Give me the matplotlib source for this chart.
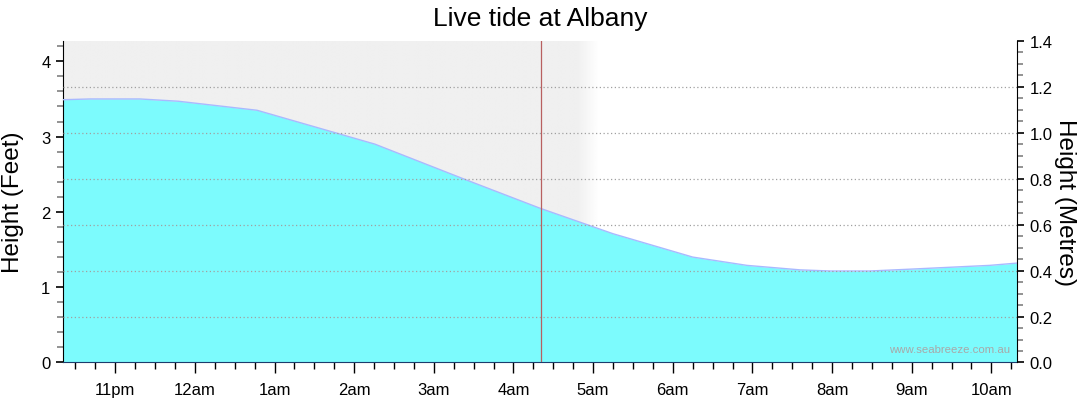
import numpy as np
import matplotlib.pyplot as plt

# tide heights (feet), hours relative to midnight (negative = previous evening)
hours = [-1.656, -1.31, -0.69, -0.21, 0.78, 2.26, 3.37, 4.33, 5.25, 6.25,
         6.93, 7.6, 7.98, 8.47, 8.99, 9.98, 10.32]
height_ft = [3.49, 3.50, 3.50, 3.47, 3.35, 2.90, 2.44, 2.05, 1.71, 1.40,
             1.29, 1.23, 1.215, 1.215, 1.24, 1.29, 1.32]
now_hour = 4.345

tick_hours = list(range(-1, 11))
tick_labels = ['11pm', '12am', '1am', '2am', '3am', '4am', '5am', '6am',
               '7am', '8am', '9am', '10am']

plt.rcParams['font.family'] = ['Liberation Sans', 'DejaVu Sans']

fig = plt.figure(figsize=(10.8, 4.14), dpi=100)
ax = fig.add_axes([0.0583, 0.122, 0.8834, 0.7766])
x0, x1 = -1.656, 10.322
ax.set_xlim(x0, x1)
ax.set_ylim(0, 4.27)

# shaded "past" region with a fade to white
fade_start, fade_end = 4.80, 5.07
xs = np.linspace(x0, x1, 1200)
alpha = np.clip((fade_end - xs) / (fade_end - fade_start), 0, 1)
grey = 240 / 255
row = 1 - (1 - grey) * alpha
img = np.tile(row, (2, 1))
ax.imshow(img, cmap='gray', vmin=0, vmax=1, aspect='auto',
          extent=[x0, x1, 0, 4.27], zorder=0, interpolation='bilinear')

# tide fill
ax.fill_between(hours, height_ft, 0, color='#7cfbfd', lw=0, zorder=2)
ax.plot(hours, height_ft, color='#a9b9ff', lw=1.0, zorder=3)

# current time marker
ax.axvline(now_hour, color='#b86060', lw=0.9, zorder=4)

ax.set_xticks(tick_hours)
ax.set_xticklabels(tick_labels, fontsize=12)
ax.set_xticks(np.arange(-1.5, 10.4, 0.25), minor=True)
ax.set_yticks([0, 1, 2, 3, 4])
ax.set_yticks(np.arange(0, 4.27, 0.2), minor=True)
ax.tick_params(axis='x', which='major', length=8, width=1, color='black', pad=6)
ax.tick_params(axis='x', which='minor', length=5, width=1, color='black')
ax.tick_params(axis='y', which='major', length=5, width=1.2, labelsize=12, pad=4)
ax.tick_params(axis='y', which='minor', length=4, width=1.2, color='#808080')
ax.set_ylabel('Height (Feet)', fontsize=17.5, va='center')
ax.yaxis.set_label_coords(-0.052, 0.5)

for s in ['top', 'right']:
    ax.spines[s].set_visible(False)
ax.spines['bottom'].set_color('#1c3c6c')
ax.spines['left'].set_color('black')

# right axis in metres, grid from this axis
ax2 = ax.twinx()
ax2.set_ylim(0, 1.4)
ax2.set_yticks(np.arange(0, 1.41, 0.2))
ax2.set_yticklabels(['%.1f' % v for v in np.arange(0, 1.41, 0.2)])
ax2.set_yticks(np.arange(0, 1.41, 0.05), minor=True)
ax2.tick_params(axis='y', which='major', length=5, width=1.2, labelsize=12, pad=4)
ax2.tick_params(axis='y', which='minor', length=4, width=1.2, color='#808080')
ax2.grid(axis='y', which='major', color='#a0a0a0', linestyle=(0, (1, 2)), lw=0.9)
gl = ax2.get_ygridlines()
gl[0].set_visible(False)
gl[-1].set_visible(False)
ax2.set_ylabel('Height (Metres)', fontsize=17.5, rotation=270, va='center')
ax2.yaxis.set_label_coords(1.05, 0.5)
for s in ['top', 'left', 'bottom']:
    ax2.spines[s].set_visible(False)
ax2.spines['right'].set_color('black')

ax2.text(0.993, 0.025, 'www.seabreeze.com.au', transform=ax2.transAxes,
         ha='right', va='bottom', fontsize=8.2, color='#a8a8a8')

fig.text(0.5, 0.955, 'Live tide at Albany', ha='center', va='center', fontsize=19)

fig.savefig('out.png', dpi=100)
